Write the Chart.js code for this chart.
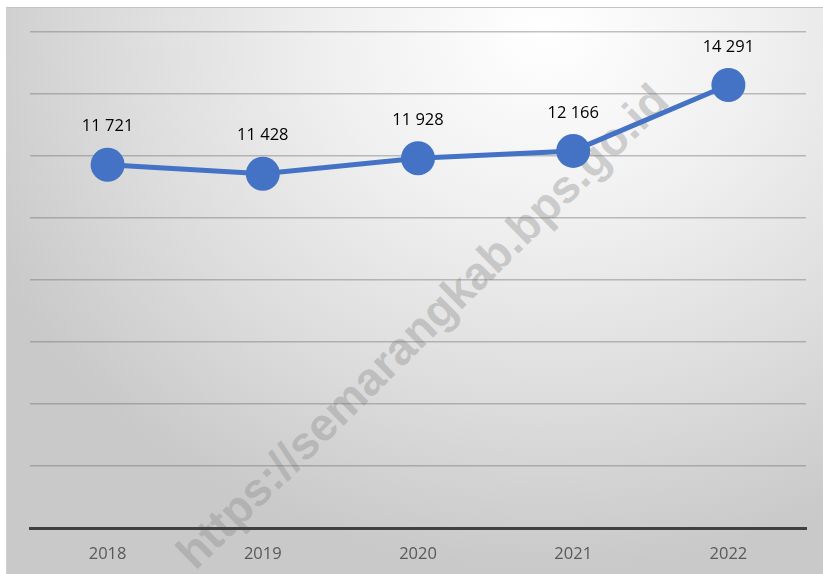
<!DOCTYPE html>
<html>
<head>
<meta charset="utf-8">
<script src="https://cdn.jsdelivr.net/npm/chart.js@4"></script>
<style>
  html, body { margin: 0; padding: 0; background: #fff; }
  #wrap { position: relative; width: 823px; height: 574px; overflow: hidden; }
  #box {
    position: absolute; left: 6px; top: 7px; width: 817px; height: 566px;
    border-top: 1px solid #c4c4c4; border-left: 1px solid #d0d0d0;
    background: radial-gradient(ellipse 75% 95% at 66% 4%, #ffffff 0%, #f0f0f0 35%, #dcdcdc 70%, #c9c9c9 100%);
  }
  #mark {
    position: absolute; left: 422px; top: 326px;
    transform: translate(-50%, -50%) rotate(-44.5deg);
    font-family: "Liberation Sans", Arial, sans-serif; font-weight: bold; font-size: 46px;
    color: rgba(140, 140, 140, 0.4); white-space: nowrap;
  }
  canvas { position: absolute; left: 0; top: 0; }
</style>
</head>
<body>
<div id="wrap">
  <div id="box"></div>
  <div id="mark">https://semarangkab.bps.go.id</div>
  <canvas id="lineChart1" width="823" height="574"></canvas>
</div>
<script>
const years = ['2018', '2019', '2020', '2021', '2022'];
const values = [11721, 11428, 11928, 12166, 14291];
const valueLabels = ['11 721', '11 428', '11 928', '12 166', '14 291'];

const labelPlugin = {
    id: 'pointLabels',
    afterDatasetsDraw(chart) {
        const ctx = chart.ctx;
        const meta = chart.getDatasetMeta(0);
        ctx.save();
        ctx.font = '16.5px "Open Sans", "Liberation Sans", sans-serif';
        ctx.fillStyle = '#000';
        ctx.textAlign = 'center';
        ctx.textBaseline = 'middle';
        meta.data.forEach(function (pt, i) {
            ctx.fillText(valueLabels[i], pt.x, pt.y - 38);
        });
        ctx.restore();
    }
};

const CHART1 = document.getElementById("lineChart1");
let lineChart1 = new Chart(CHART1, {
    type: 'line',
    data: {
        labels: years,
        datasets: [{
            data: values,
            borderColor: '#4472C4',
            backgroundColor: '#4472C4',
            borderWidth: 5,
            pointRadius: 17,
            pointHoverRadius: 17,
            pointBorderWidth: 0,
            tension: 0
        }]
    },
    options: {
        responsive: false,
        animation: false,
        layout: { padding: { left: 30, right: 17, top: 32, bottom: 2 } },
        plugins: { legend: { display: false }, tooltip: { enabled: false } },
        scales: {
            x: {
                offset: true,
                grid: { display: false },
                border: { color: '#404040', width: 3 },
                ticks: {
                    color: '#595959',
                    font: { size: 16.5, family: '"Open Sans", "Liberation Sans", sans-serif' },
                    padding: 8
                }
            },
            y: {
                min: 0,
                max: 16000,
                ticks: { stepSize: 2000, display: false },
                grid: { color: 'rgba(110,110,110,0.42)', lineWidth: 1.5, drawTicks: false },
                border: { display: false }
            }
        }
    },
    plugins: [labelPlugin]
});
</script>
</body>
</html>
